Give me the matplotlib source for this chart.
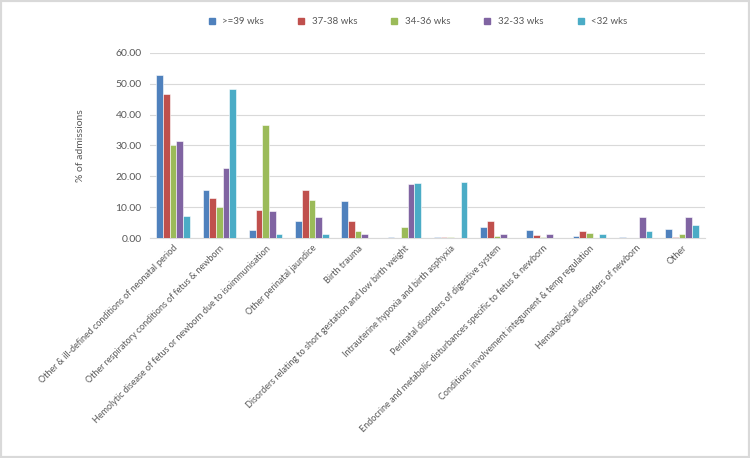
import numpy as np
import matplotlib.pyplot as plt
from matplotlib.lines import Line2D
from matplotlib.patches import Rectangle

plt.rcParams['font.family'] = ['Lato', 'DejaVu Sans']

categories = [
    "Other & ill-defined conditions of neonatal period",
    "Other respiratory conditions of fetus & newborn",
    "Hemolytic disease of fetus or newborn due to isoimmunisation",
    "Other perinatal jaundice",
    "Birth trauma",
    "Disorders relating to short gestation and low birth weight",
    "Intrauterine hypoxia and birth asphyxia",
    "Perinatal disorders of digestive system",
    "Endocrine and metabolic disturbances specific to fetus & newborn",
    "Conditions involvement integument & temp regulation",
    "Hematological disorders of newborn",
    "Other",
]
series_names = [">=39 wks", "37-38 wks", "34-36 wks", "32-33 wks", "<32 wks"]
wk39 = [52.7, 15.5, 2.6, 5.6, 11.9, 0.5, 0.5, 3.5, 2.5, 0.8, 0.3, 2.9]
wk37 = [46.7, 12.9, 9.2, 15.5, 5.5, 0.0, 0.3, 5.6, 1.1, 2.2, 0.0, 0.3]
wk34 = [30.0, 10.2, 36.7, 12.2, 2.2, 3.5, 0.4, 0.6, 0.5, 1.6, 0.0, 1.5]
wk32 = [31.3, 22.8, 8.9, 6.9, 1.5, 17.5, 0.0, 1.5, 1.5, 0.0, 6.8, 6.8]
wk_lt32 = [7.2, 48.3, 1.3, 1.3, 0.0, 17.8, 18.2, 0.0, 0.0, 1.2, 2.2, 4.3]
series = [wk39, wk37, wk34, wk32, wk_lt32]
colors = ["#4F81BD", "#C0504D", "#9BBB59", "#8064A2", "#4BACC6"]

fig = plt.figure(figsize=(7.5, 4.58), dpi=100)
ax = fig.add_axes([0.2, 0.48, 0.74, 0.405])

x = np.arange(len(categories))
w = 0.145
for i, (vals, c) in enumerate(zip(series, colors)):
    ax.bar(x + (i - 2) * w, vals, width=w, color=c, edgecolor='white',
           linewidth=0.4, zorder=3)

ax.set_xlim(-0.5, len(categories) - 0.5)
ax.set_ylim(0, 60)
ax.set_yticks(np.arange(0, 61, 10))
ax.set_yticklabels([f"{v:.2f}" for v in np.arange(0, 61, 10)])
ax.yaxis.grid(True, color='#D9D9D9', linewidth=0.8, zorder=0)
for s in ['top', 'right', 'left']:
    ax.spines[s].set_visible(False)
ax.spines['bottom'].set_color('#D9D9D9')
ax.tick_params(axis='y', length=0, labelsize=7.5, colors='#595959', pad=6)
ax.tick_params(axis='x', length=0, pad=4)
ax.set_xticks(x)
ax.set_xticklabels(categories, rotation=45, ha='right', rotation_mode='anchor',
                   fontsize=6.5, color='#595959')
ax.set_ylabel('% of admissions', fontsize=7.5, color='#595959', labelpad=22)

handles = [Line2D([], [], marker='s', linestyle='none', color=c, markersize=4.5)
           for c in colors]
fig.legend(handles, series_names, loc='center', bbox_to_anchor=(0.553, 0.952),
           ncol=5, frameon=False, fontsize=7, handletextpad=0.1,
           columnspacing=2.8, labelcolor='#595959')

fig.patches.append(Rectangle((0, 0), 1, 1, transform=fig.transFigure,
                             fill=False, edgecolor='#D9D9D9', linewidth=3))

fig.savefig('out.png', dpi=100)
